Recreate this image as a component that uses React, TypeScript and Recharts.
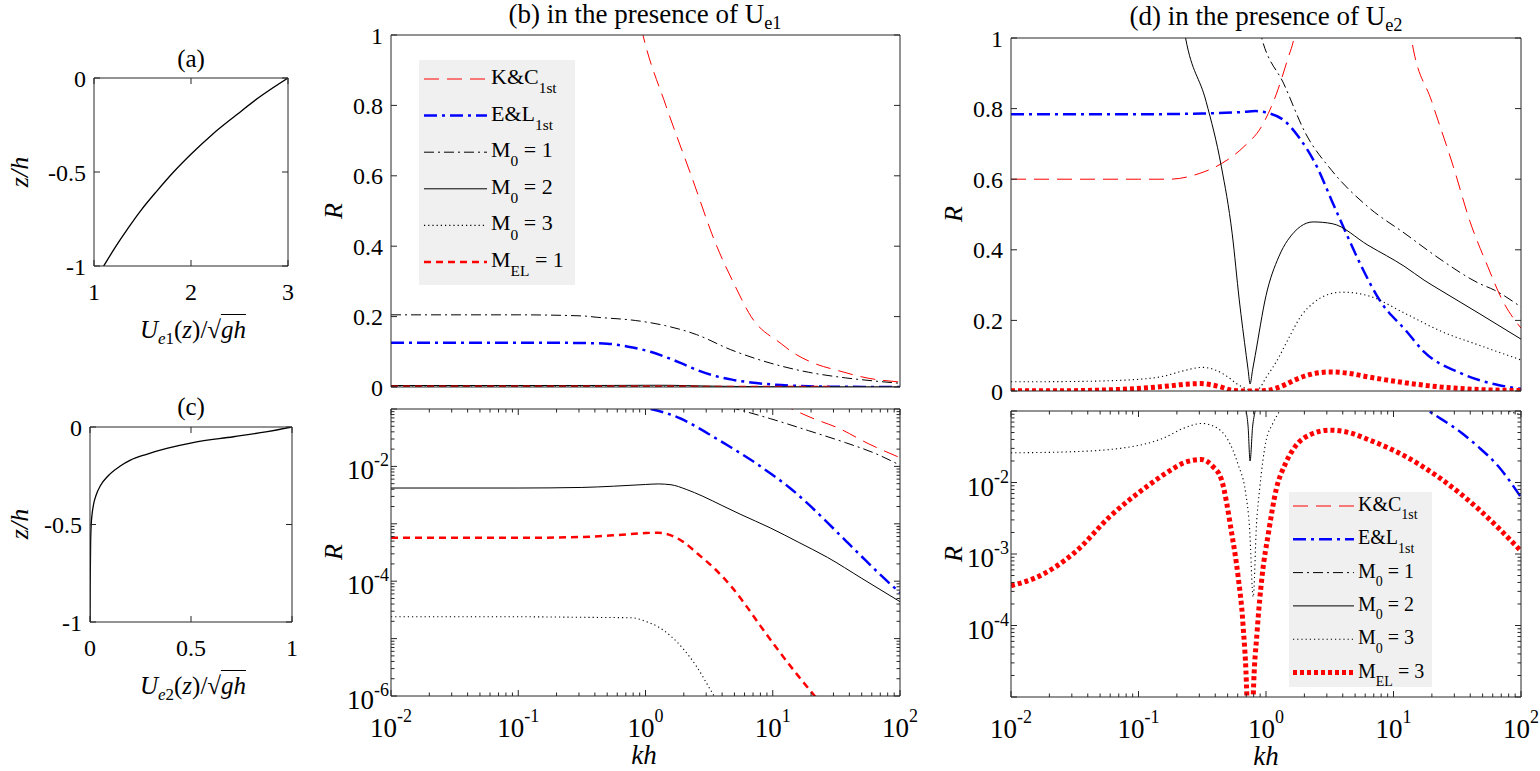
import React from 'react';
import { LineChart, Line, XAxis, YAxis } from 'recharts';

const SERIF = '"Liberation Serif", "Times New Roman", Times, serif';
const BOX = '#262626';
const RED = '#ff0000';
const BLUE = '#0000ff';
const BLACK = '#000000';

// (a) U_e1 profile
const zA = [-1, -0.9, -0.8, -0.7, -0.6, -0.5, -0.4, -0.3, -0.2, -0.1, 0];
const uA = [1.1, 1.22, 1.35, 1.49, 1.65, 1.82, 2.01, 2.22, 2.46, 2.71, 3.0];

// (c) U_e2 profile
const zC = [-1, -0.8, -0.6, -0.5, -0.45, -0.4, -0.35, -0.3, -0.25, -0.2, -0.17, -0.14, -0.11, -0.08, -0.05, -0.025, 0];
const uC = [0, 0.001, 0.003, 0.006, 0.01, 0.017, 0.03, 0.052, 0.09, 0.15, 0.2, 0.28, 0.38, 0.51, 0.71, 0.87, 1];

// (b) in the presence of U_e1
const khKcB = [0.5, 0.955, 1.445, 2.291, 3.631, 5.012, 6.761, 11.75, 14.13, 19.95, 33.11, 56.23, 100];
const rKcB = [1.6, 1.0, 0.8, 0.6, 0.4, 0.29, 0.2, 0.122, 0.1, 0.071, 0.046, 0.025, 0.0142];

const khElB = [0.01, 0.1, 0.316, 0.501, 0.794, 1.096, 1.445, 1.905, 2.512, 3.388, 4.786, 6.761, 9.55, 13.49, 19.05, 26.92, 38.02, 53.7, 74.13, 100];
const rElB = [0.126, 0.126, 0.125, 0.123, 0.112, 0.1, 0.0851, 0.0676, 0.049, 0.0331, 0.0209, 0.0129, 0.0076, 0.0043, 0.0022, 0.00105, 4.9e-4, 2.3e-4, 1.15e-4, 6.3e-5];

const khM1B = [0.01, 0.1, 0.316, 0.417, 0.832, 1.445, 2.512, 4.677, 9.55, 19.05, 37.15, 63.1, 100];
const rM1B = [0.205, 0.205, 0.202, 0.198, 0.189, 0.174, 0.149, 0.106, 0.068, 0.042, 0.026, 0.017, 0.0105];

const khM2B = [0.01, 0.1, 0.316, 0.562, 1, 1.259, 1.585, 2.089, 2.818, 3.981, 5.623, 9.55, 15.85, 26.92, 50.12, 100];
const rM2B = [0.0042, 0.0042, 0.0043, 0.00452, 0.00484, 0.00495, 0.00479, 0.00398, 0.00302, 0.00209, 0.00145, 8.5e-4, 4.8e-4, 2.6e-4, 1.12e-4, 4.4e-5];

const khM3B = [0.01, 0.1, 0.316, 0.794, 1, 1.259, 1.585, 1.995, 2.512, 3.162, 3.548, 4.467];
const rM3B = [2.4e-5, 2.4e-5, 2.35e-5, 2.3e-5, 2.0e-5, 1.6e-5, 1.1e-5, 6.5e-6, 3.3e-6, 1.4e-6, 9e-7, 3e-7];

const khMelB = [0.01, 0.1, 0.316, 0.562, 1, 1.259, 1.585, 1.995, 2.57, 3.548, 4.786, 6.31, 7.943, 11.22, 15.85, 21.38, 28.18];
const rMelB = [5.7e-4, 5.7e-4, 5.9e-4, 6.3e-4, 6.9e-4, 7.0e-4, 6.3e-4, 4.8e-4, 3.0e-4, 1.6e-4, 7.8e-5, 3.5e-5, 1.7e-5, 6e-6, 2.24e-6, 1e-6, 5e-7];

// (d) in the presence of U_e2
const khKcD = [0.01, 0.1, 0.174, 0.299, 0.447, 0.661, 0.925, 1.202, 1.479, 1.66, 1.995, 3.162, 10, 12.59, 13.8, 19.95, 29.51, 39.81, 54.95, 70.79, 100];
const rKcD = [0.6, 0.6, 0.6, 0.616, 0.644, 0.69, 0.75, 0.84, 0.94, 1.0, 1.2, 2.5, 2.5, 1.15, 1.0, 0.82, 0.635, 0.48, 0.352, 0.26, 0.178];

const khElD = [0.01, 0.1, 0.316, 0.631, 0.832, 1.047, 1.38, 1.8, 2.512, 3.273, 4.266, 5.623, 7.762, 12.59, 17.38, 33.88, 46.77, 66.07, 100];
const rElD = [0.784, 0.784, 0.786, 0.79, 0.793, 0.787, 0.767, 0.72, 0.635, 0.54, 0.446, 0.352, 0.258, 0.17, 0.111, 0.05, 0.031, 0.017, 0.0062];

const khM1D = [0.501, 0.708, 0.925, 1.38, 2.042, 3.273, 6.383, 12.3, 23.99, 46.77, 61.66, 100];
const rM1D = [1.6, 1.2, 1.0, 0.87, 0.73, 0.625, 0.52, 0.446, 0.37, 0.305, 0.286, 0.238];

const khM2D = [0.1, 0.178, 0.234, 0.339, 0.447, 0.543, 0.617, 0.7, 0.724, 0.75, 0.785, 0.822, 1.0, 1.259, 1.479, 2.344, 3.311, 6.31, 12.3, 17.38, 23.99, 46.77, 100];
const rM2D = [2.5, 1.3, 1.0, 0.82, 0.635, 0.446, 0.258, 0.1, 0.06, 0.02, 0.06, 0.1, 0.27, 0.38, 0.427, 0.479, 0.474, 0.413, 0.352, 0.314, 0.283, 0.22, 0.147];

const khM3D = [0.01, 0.0316, 0.1, 0.158, 0.224, 0.316, 0.398, 0.501, 0.603, 0.692, 0.741, 0.794, 0.841, 0.891, 1.0, 1.122, 1.259, 1.479, 1.905, 2.344, 3.162, 3.981, 6.31, 12.3, 23.99, 46.77, 100];
const rM3D = [0.026, 0.027, 0.033, 0.042, 0.057, 0.067, 0.06, 0.04, 0.018, 0.0072, 0.0025, 0.00025, 0.0025, 0.008, 0.038, 0.065, 0.095, 0.144, 0.215, 0.249, 0.275, 0.28, 0.27, 0.22, 0.168, 0.13, 0.088];

const khMelD = [0.01, 0.0158, 0.0316, 0.0603, 0.1175, 0.178, 0.229, 0.309, 0.38, 0.447, 0.537, 0.603, 0.661, 0.708, 0.75, 0.794, 0.851, 0.933, 1.047, 1.202, 1.413, 1.698, 2.239, 3.162, 4.467, 6.31, 12.3, 23.99, 46.77, 100];
const rMelD = [3.6e-4, 4.7e-4, 1.05e-3, 3.4e-3, 8.9e-3, 0.0148, 0.019, 0.021, 0.017, 0.011, 2e-3, 5e-4, 1e-4, 1e-5, 1e-7, 1e-5, 8e-5, 5e-4, 2e-3, 8e-3, 0.018, 0.032, 0.047, 0.054, 0.05, 0.04, 0.0234, 0.011, 4.2e-3, 1.1e-3];

// ticks
const uTicksA = [1, 2, 3];
const uTicksC = [0, 0.5, 1];
const zTicks = [-1, -0.5, 0];
const rTicksLin = [0, 0.2, 0.4, 0.6, 0.8, 1];
const khLabels = [0.01, 0.1, 1, 10, 100];
const rLabelsB = [1e-6, 1e-4, 1e-2];
const rLabelsD = [1e-4, 1e-3, 1e-2];

const logTicks = (lo: number, hi: number) => {
  const out: number[] = [];
  for (let e = lo; e < hi; e++) for (let m = 1; m < 10; m++) out.push(m * Math.pow(10, e));
  out.push(Math.pow(10, hi));
  return out;
};

const pts = (xs: number[], ys: number[]) => xs.map((x, i) => ({ x, y: ys[i] }));

const ST: any = {
  kc: { color: RED, w: 1, dash: '15 8' },
  el: { color: BLUE, w: 2.5, dash: '13 5 3 5' },
  m1: { color: BLACK, w: 1, dash: '10 4 2 4' },
  m2: { color: BLACK, w: 1, dash: undefined },
  m3: { color: BLACK, w: 1.1, dash: '1.2 3' },
  melB: { color: RED, w: 2.5, dash: '7 5' },
  melD: { color: RED, w: 5, dash: '4 3' },
};

const isDecade = (v: number) => Math.abs(Math.log10(v) - Math.round(Math.log10(v))) < 1e-6;
const inList = (list: number[] | null, v: number) =>
  !!list && list.some((t) => Math.abs(t - v) <= Math.abs(t) * 1e-6 + 1e-12);

const FS = 24; // linear tick labels
const FL = 27; // "10" of log tick labels
const FE = 18; // exponent

const mkTick = (side: string, ax: any, showLabels: boolean) => (p: any) => {
  const { x, y, payload } = p;
  const v: number = payload.value;
  const major = !ax.log || isDecade(v);
  const L = major ? 6 : 3.5;
  let ln: any = null;
  if (side === 'bottom') ln = <line x1={x} x2={x} y1={y} y2={y - L} stroke={BOX} />;
  if (side === 'top') ln = <line x1={x} x2={x} y1={y} y2={y + L} stroke={BOX} />;
  if (side === 'left') ln = <line x1={x} x2={x + L} y1={y} y2={y} stroke={BOX} />;
  if (side === 'right') ln = <line x1={x} x2={x - L} y1={y} y2={y} stroke={BOX} />;
  let txt: any = null;
  if (showLabels && inList(ax.labels, v)) {
    const exp = String(Math.round(Math.log10(v)));
    if (side === 'bottom') {
      txt = ax.log ? (
        <text x={x} y={y + 41} textAnchor="middle" fontFamily={SERIF} fontSize={FL} fill="#000">
          10<tspan dy={-15} fontSize={FE}>{exp}</tspan>
        </text>
      ) : (
        <text x={x} y={y + 34} textAnchor="middle" fontFamily={SERIF} fontSize={FS} fill="#000">{String(v)}</text>
      );
    }
    if (side === 'left') {
      txt = ax.log ? (
        <text x={x - 2} y={y + 13} textAnchor="end" fontFamily={SERIF} fontSize={FL} fill="#000">
          10<tspan dy={-13} fontSize={FE}>{exp}</tspan>
        </text>
      ) : (
        <text x={x - 8} y={y + 8.5} textAnchor="end" fontFamily={SERIF} fontSize={FS} fill="#000">{String(v)}</text>
      );
    }
  }
  return (
    <g>
      {ln}
      {txt}
    </g>
  );
};

function Panel({ box, xa, ya, series }: any) {
  const [x0, y0, x1, y1] = box;
  // axes take 1px each; margins account for it so the plot box lands on `box`
  const M = { top: 29, right: 19, bottom: 59, left: 79 };
  const W = x1 - x0 + M.left + M.right + 2;
  const H = y1 - y0 + M.top + M.bottom + 2;
  const common = (a: any) => ({
    type: 'number' as const,
    scale: a.log ? 'log' : 'linear',
    domain: a.domain,
    allowDataOverflow: true,
    ticks: a.ticks || undefined,
    interval: 0 as const,
    tickSize: 0,
    tickMargin: 0,
    tickLine: false,
    axisLine: { stroke: BOX, strokeWidth: 1 },
  });
  return (
    <div style={{ position: 'absolute', left: x0 - M.left - 1, top: y0 - M.top - 1 }}>
      <LineChart width={W} height={H} margin={M}>
        <XAxis xAxisId="b" dataKey="x" orientation="bottom" height={1} {...(common(xa) as any)}
          tick={xa.ticks ? mkTick('bottom', xa, true) : false} />
        <XAxis xAxisId="t" dataKey="x" orientation="top" height={1} {...(common(xa) as any)}
          tick={xa.ticks ? mkTick('top', xa, false) : false} />
        <YAxis yAxisId="l" orientation="left" width={1} {...(common(ya) as any)} tick={mkTick('left', ya, true)} />
        <YAxis yAxisId="r" orientation="right" width={1} {...(common(ya) as any)} tick={mkTick('right', ya, false)} />
        {series.map((s: any) => (
          <Line
            key={s.name}
            name={s.name}
            xAxisId="b"
            yAxisId="l"
            data={s.data}
            dataKey="y"
            type="monotone"
            stroke={s.st.color}
            strokeWidth={s.st.w}
            strokeDasharray={s.st.dash}
            dot={false}
            activeDot={false}
            isAnimationActive={false}
          />
        ))}
      </LineChart>
    </div>
  );
}

const Sub = ({ children }: any) => (
  <span style={{ fontSize: '0.68em', position: 'relative', top: '0.32em' }}>{children}</span>
);

function Txt({ x, y, fs, children, italic, rotate }: any) {
  const style: any = {
    position: 'absolute',
    left: x,
    top: y - 0.8375 * fs,
    fontFamily: SERIF,
    fontSize: fs,
    lineHeight: 1,
    whiteSpace: 'nowrap',
    fontStyle: italic ? 'italic' : 'normal',
    transform: 'translateX(-50%)',
    color: '#000',
  };
  if (rotate) {
    style.top = y;
    style.transform = 'translate(-50%, -50%) rotate(-90deg)';
  }
  return <div style={style}>{children}</div>;
}

const legendLabels = (mel: string) => [
  ['K&C', '1st', ''],
  ['E&L', '1st', ''],
  ['M', '0', ' = 1'],
  ['M', '0', ' = 2'],
  ['M', '0', ' = 3'],
  ['M', 'EL', ' = ' + mel],
];

function LegendBox({ x, y, w, h, row0, step, lx0, lx1, tx, fs, styles, labels }: any) {
  return (
    <svg style={{ position: 'absolute', left: x, top: y, overflow: 'visible' }} width={w} height={h}>
      <rect width={w} height={h} fill="#f0f0f0" />
      {styles.map((st: any, i: number) => {
        const ry = row0 - y + i * step;
        const [a, b, c] = labels[i];
        return (
          <g key={i}>
            <line x1={lx0 - x} x2={lx1 - x} y1={ry} y2={ry} stroke={st.color} strokeWidth={st.w} strokeDasharray={st.dash} />
            <text x={tx - x} y={ry + 5} fontFamily={SERIF} fontSize={fs} fill="#000" style={{ whiteSpace: 'pre' }}>
              {a}
              <tspan dy={fs * 0.42} fontSize={fs * 0.7}>{b}</tspan>
              {c ? <tspan dy={-fs * 0.42}>{c}</tspan> : null}
            </text>
          </g>
        );
      })}
    </svg>
  );
}

const Uxl = ({ n }: any) => (
  <span>
    <i>U</i>
    <Sub>
      <i>e</i>{n}
    </Sub>
    (<i>z</i>)/√<span style={{ borderTop: '1.5px solid #000', paddingTop: 1 }}><i>gh</i></span>
  </span>
);

export default function App() {
  const logX = { log: true, domain: [0.01, 100], ticks: logTicks(-2, 2), labels: khLabels };
  const logXNoTicks = { log: true, domain: [0.01, 100], ticks: null, labels: null };
  const linR = { log: false, domain: [0, 1], ticks: rTicksLin, labels: rTicksLin };

  const seriesB = [
    { name: 'kc', st: ST.kc, data: pts(khKcB, rKcB) },
    { name: 'el', st: ST.el, data: pts(khElB, rElB) },
    { name: 'm1', st: ST.m1, data: pts(khM1B, rM1B) },
    { name: 'm2', st: ST.m2, data: pts(khM2B, rM2B) },
    { name: 'm3', st: ST.m3, data: pts(khM3B, rM3B) },
    { name: 'mel', st: ST.melB, data: pts(khMelB, rMelB) },
  ];
  const seriesD = [
    { name: 'kc', st: ST.kc, data: pts(khKcD, rKcD) },
    { name: 'el', st: ST.el, data: pts(khElD, rElD) },
    { name: 'm1', st: ST.m1, data: pts(khM1D, rM1D) },
    { name: 'm2', st: ST.m2, data: pts(khM2D, rM2D) },
    { name: 'm3', st: ST.m3, data: pts(khM3D, rM3D) },
    { name: 'mel', st: ST.melD, data: pts(khMelD, rMelD) },
  ];
  const prof = { color: BLACK, w: 1.3, dash: undefined };

  return (
    <div style={{ position: 'absolute', left: 0, top: 0, width: 1540, height: 771, background: '#fff', overflow: 'hidden' }}>
      <Panel
        box={[94, 78, 288, 266]}
        xa={{ log: false, domain: [1, 3], ticks: uTicksA, labels: uTicksA }}
        ya={{ log: false, domain: [-1, 0], ticks: zTicks, labels: zTicks }}
        series={[{ name: 'ua', st: prof, data: pts(uA, zA) }]}
      />
      <Panel
        box={[90, 427, 292, 622]}
        xa={{ log: false, domain: [0, 1], ticks: uTicksC, labels: uTicksC }}
        ya={{ log: false, domain: [-1, 0], ticks: zTicks, labels: zTicks }}
        series={[{ name: 'uc', st: prof, data: pts(uC, zC) }]}
      />
      <Panel box={[391, 35, 900, 387]} xa={logXNoTicks} ya={linR} series={seriesB} />
      <Panel
        box={[391, 409, 900, 696]}
        xa={logX}
        ya={{ log: true, domain: [1e-6, 0.1], ticks: logTicks(-6, -1), labels: rLabelsB }}
        series={seriesB}
      />
      <Panel box={[1011, 38, 1521, 391]} xa={logXNoTicks} ya={linR} series={seriesD} />
      <Panel
        box={[1011, 411, 1521, 697]}
        xa={logX}
        ya={{ log: true, domain: [1e-5, 0.1], ticks: logTicks(-5, -1), labels: rLabelsD }}
        series={seriesD}
      />

      <LegendBox
        x={419} y={60} w={156} h={225} row0={79} step={36.6} lx0={424} lx1={487} tx={491} fs={22}
        styles={[ST.kc, ST.el, ST.m1, ST.m2, ST.m3, ST.melB]}
        labels={legendLabels('1')}
      />
      <LegendBox
        x={1289} y={492} w={143} h={195} row0={506} step={33.3} lx0={1293} lx1={1354} tx={1358} fs={20}
        styles={[ST.kc, ST.el, ST.m1, ST.m2, ST.m3, ST.melD]}
        labels={legendLabels('3')}
      />

      <Txt x={191} y={67} fs={25}>(a)</Txt>
      <Txt x={191} y={415} fs={25}>(c)</Txt>
      <Txt x={645} y={24} fs={27}>(b) in the presence of U<Sub>e1</Sub></Txt>
      <Txt x={1266} y={26} fs={27}>(d) in the presence of U<Sub>e2</Sub></Txt>

      <Txt x={20} y={172} fs={26} italic rotate>z/h</Txt>
      <Txt x={20} y={524} fs={26} italic rotate>z/h</Txt>
      <Txt x={193} y={338} fs={25}><Uxl n="1" /></Txt>
      <Txt x={193} y={694} fs={25}><Uxl n="2" /></Txt>

      <Txt x={334} y={211} fs={26} italic rotate>R</Txt>
      <Txt x={334} y={552} fs={26} italic rotate>R</Txt>
      <Txt x={954} y={214} fs={26} italic rotate>R</Txt>
      <Txt x={954} y={554} fs={26} italic rotate>R</Txt>
      <Txt x={644} y={765} fs={27} italic>kh</Txt>
      <Txt x={1266} y={766} fs={27} italic>kh</Txt>
    </div>
  );
}
